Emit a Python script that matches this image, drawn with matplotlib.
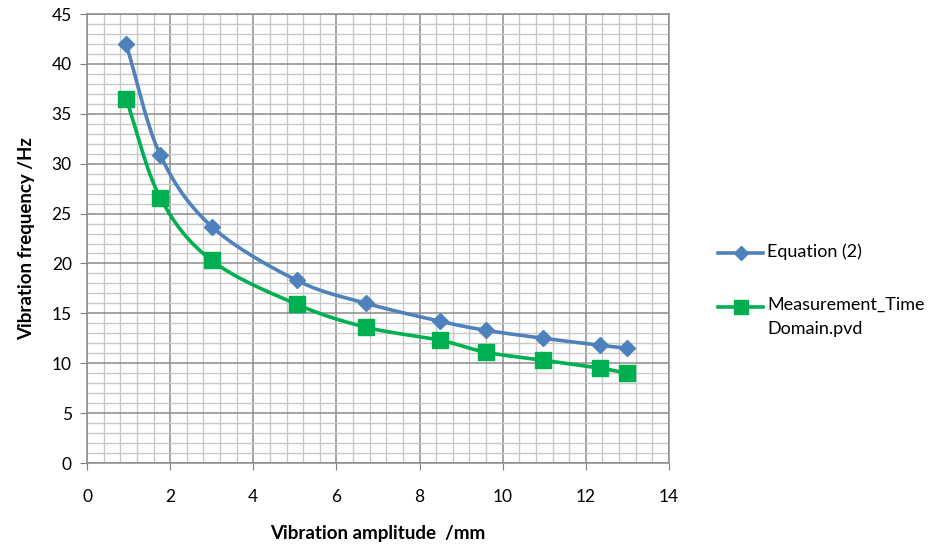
import numpy as np
import matplotlib
matplotlib.use("Agg")
import matplotlib.pyplot as plt
from matplotlib.lines import Line2D

amplitude = [0.94, 1.76, 3.0, 5.05, 6.72, 8.5, 9.6, 10.98, 12.35, 13.0]
freq_equation = [42.0, 30.9, 23.7, 18.3, 16.0, 14.2, 13.3, 12.5, 11.8, 11.5]
freq_measured = [36.5, 26.6, 20.3, 15.9, 13.6, 12.3, 11.1, 10.3, 9.5, 9.0]
labels = ["Equation (2)", "Measurement_Time\nDomain.pvd"]

plt.rcParams['font.family'] = ['Lato', 'DejaVu Sans']

def smooth(x, y, n=30):
    # Catmull-Rom curve through the given points (drawing aid, like Excel smoothed line)
    x = np.asarray(x, float); y = np.asarray(y, float)
    px = np.concatenate([[2*x[0]-x[1]], x, [2*x[-1]-x[-2]]])
    py = np.concatenate([[2*y[0]-y[1]], y, [2*y[-1]-y[-2]]])
    ox, oy = [], []
    t = np.linspace(0, 1, n)
    for i in range(1, len(px)-2):
        for arr, out in ((px, ox), (py, oy)):
            p0, p1, p2, p3 = arr[i-1], arr[i], arr[i+1], arr[i+2]
            out.extend(0.5*((2*p1) + (-p0+p2)*t + (2*p0-5*p1+4*p2-p3)*t**2 + (-p0+3*p1-3*p2+p3)*t**3))
    return np.array(ox), np.array(oy)

fig = plt.figure(figsize=(9.52, 5.52), dpi=100)
ax = fig.add_axes([0.0914, 0.1612, 0.6113, 0.8134])

blue = '#4F81BD'
green = '#00B050'

sx, sy = smooth(amplitude, freq_equation)
ax.plot(sx, sy, color=blue, lw=2.6, solid_capstyle='round', zorder=3)
ax.plot(amplitude, freq_equation, ls='none', marker='D', ms=8.5, color=blue, zorder=4)
sx, sy = smooth(amplitude, freq_measured)
ax.plot(sx, sy, color=green, lw=2.6, solid_capstyle='round', zorder=3)
ax.plot(amplitude, freq_measured, ls='none', marker='s', ms=11, color=green, zorder=4)

ax.set_xlim(0, 14)
ax.set_ylim(0, 45)
ax.set_xticks(np.arange(0, 15, 2))
ax.set_yticks(np.arange(0, 46, 5))
ax.set_xticks(np.arange(0, 14.01, 0.4), minor=True)
ax.set_yticks(np.arange(0, 45.01, 1), minor=True)
ax.grid(which='major', color='#8c8c8c', lw=1.1)
ax.grid(which='minor', color='#c8c8c8', lw=1.0)
ax.set_axisbelow(True)
ax.tick_params(which='major', direction='out', length=5, color='#7f7f7f', labelsize=12.5, pad=6)
ax.tick_params(axis='x', pad=14)
ax.tick_params(which='minor', length=0)
for s in ax.spines.values():
    s.set_color('#8c8c8c')
    s.set_linewidth(1.1)

ax.set_xlabel('Vibration amplitude  /mm', fontsize=13.5, fontweight='bold', labelpad=14)
ax.set_ylabel('Vibration frequency /Hz', fontsize=13.5, fontweight='bold', labelpad=12)

# legend drawn in figure coordinates, first text line aligned with its key
def fy(py):
    return 1 - py / 552
def fx(px):
    return px / 952
for (color, marker, ms, ypix), label in zip([(blue, 'D', 7.5, 253), (green, 's', 9.5, 307)], labels):
    fig.add_artist(Line2D([fx(718), fx(763)], [fy(ypix), fy(ypix)], color=color, lw=2.6))
    fig.add_artist(Line2D([fx(740.5)], [fy(ypix)], color=color, marker=marker, ms=ms, ls='none'))
    fig.text(fx(767), fy(ypix), label, ha='left', va='top', fontsize=13,
             linespacing=1.65, transform=fig.transFigure,
             bbox=None).set_y(fy(ypix - 10))

fig.savefig('out.png', dpi=100)
